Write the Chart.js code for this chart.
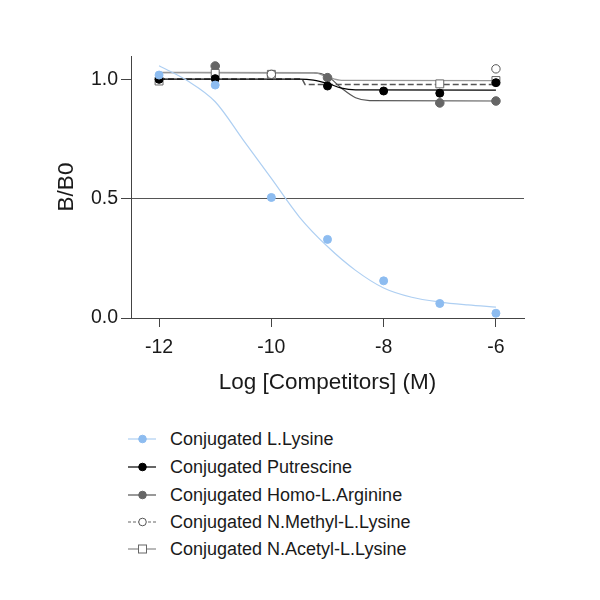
<!DOCTYPE html>
<html><head><meta charset="utf-8">
<script src="https://cdn.jsdelivr.net/npm/chart.js@4/dist/chart.umd.min.js"></script>
<style>
html,body{margin:0;padding:0;background:#fff;}
#wrap{position:relative;width:600px;height:600px;overflow:hidden;}
#cw{position:absolute;left:0;top:0;width:600px;height:410px;}
.row{position:absolute;left:125px;height:22px;display:flex;align-items:center;font-family:"Liberation Sans",Arial,Helvetica,sans-serif;font-size:18px;color:#1a1a1a;white-space:nowrap;}
.row svg{width:45px;height:22px;flex:none;}
</style></head><body>
<div id="wrap"><div id="cw"><canvas id="c"></canvas></div><div id="legend"></div></div>
<script>
// ---- data ----
const doses = [-12, -11, -10, -9, -8, -7, -6];
const lysine     = [1.020, 0.978, 0.506, 0.330, 0.156, 0.061, 0.020];
const putrescine = [1.002, 1.005, null, 0.974, 0.953, 0.944, 0.988];
const homoArg    = [null, 1.058, null, 1.009, null, 0.903, 0.911];
const nMethyl    = [null, null, 1.023, null, null, null, 1.046];
const nAcetyl    = [0.995, 1.027, 1.023, null, null, 0.983, 0.997];

// fitted curves
const lysineCurveX = [-12, -11.5, -11, -10.5, -10, -9.5, -9, -8.5, -8, -7.5, -7, -6.5, -6];
const lysineCurveY = [1.059, 0.997, 0.908, 0.747, 0.586, 0.424, 0.300, 0.200, 0.126, 0.087, 0.067, 0.055, 0.046];
const putCurveX = [-12, -9.5, -9.25, -9, -8.75, -8.5, -6];
const putCurveY = [1.003, 1.003, 0.999, 0.985, 0.965, 0.958, 0.957];
const homoCurveX = [-12, -9.25, -9, -8.75, -8.5, -8.25, -6];
const homoCurveY = [1.030, 1.029, 1.015, 0.965, 0.925, 0.913, 0.911];
const acetylCurveX = [-12, -9.25, -9, -8.75, -6];
const acetylCurveY = [1.031, 1.030, 1.012, 0.998, 0.997];
const methylCurveX = [-12, -9.45, -9.4, -6];
const methylCurveY = [1.003, 1.003, 0.980, 0.980];

const seriesNames = ["Conjugated L.Lysine", "Conjugated Putrescine", "Conjugated Homo-L.Arginine", "Conjugated N.Methyl-L.Lysine", "Conjugated N.Acetyl-L.Lysine"];
const xTicks = [-12, -10, -8, -6];
const yTicks = [0, 0.5, 1.0];
const xTitle = "Log [Competitors] (M)";
const yTitle = "B/B0";

// ---- styling ----
const FONT = "'Liberation Sans', Arial, Helvetica, sans-serif";
const BLUE = "#8dbcf0", BLUE_LINE = "#aecff2";
const pts = (xs, ys) => xs.map((x, i) => ({x: x, y: ys[i]})).filter(p => p.y !== null);

function pointSet(label, ys, opts) {
  return Object.assign({type: 'scatter', label: label, data: pts(doses, ys), showLine: false, pointRadius: 4, pointHoverRadius: 4, pointBorderWidth: 1}, opts);
}
function curveSet(xs, ys, color, extra) {
  return Object.assign({type: 'scatter', data: pts(xs, ys), showLine: true, pointRadius: 0, pointHoverRadius: 0, borderColor: color, borderWidth: 1.2, cubicInterpolationMode: 'monotone', fill: false}, extra || {});
}

const datasets = [
  pointSet(seriesNames[0], lysine, {backgroundColor: BLUE, borderColor: BLUE}),
  pointSet(seriesNames[1], putrescine, {backgroundColor: '#000', borderColor: '#000'}),
  pointSet(seriesNames[3], nMethyl, {backgroundColor: '#fff', borderColor: '#555', pointRadius: 4.2}),
  pointSet(seriesNames[4], nAcetyl, {backgroundColor: '#fff', borderColor: '#666', pointStyle: 'rect', pointRadius: 5.6}),
  pointSet(seriesNames[2], homoArg, {backgroundColor: '#666', borderColor: '#666', pointRadius: 4.3}),
  curveSet(lysineCurveX, lysineCurveY, BLUE_LINE),
  curveSet(putCurveX, putCurveY, '#000'),
  curveSet(methylCurveX, methylCurveY, '#555', {borderDash: [6, 3], borderWidth: 1.5, cubicInterpolationMode: 'default', tension: 0}),
  curveSet(acetylCurveX, acetylCurveY, '#999'),
  curveSet(homoCurveX, homoCurveY, '#555'),
];

new Chart(document.getElementById('c'), {
  type: 'scatter',
  data: {datasets: datasets},
  options: {
    responsive: true, maintainAspectRatio: false, animation: false,
    layout: {padding: {top: 56, right: 76, left: 0, bottom: 0}},
    plugins: {legend: {display: false}, tooltip: {enabled: false}},
    events: [],
    scales: {
      x: {
        type: 'linear', min: -12.5, max: -5.5,
        afterBuildTicks: s => { s.ticks = xTicks.map(v => ({value: v})); },
        afterFit: s => { s.height = 92; },
        grid: {drawOnChartArea: false, tickLength: 9, tickColor: '#444', tickWidth: 1},
        border: {color: '#444', width: 1},
        ticks: {color: '#1a1a1a', font: {family: FONT, size: 19.5}, padding: 9, callback: v => String(v), maxRotation: 0},
        title: {display: true, text: xTitle, color: '#1a1a1a', font: {family: FONT, size: 22.5}, padding: {top: 0, bottom: 14}}
      },
      y: {
        type: 'linear', min: 0, max: 1.1,
        afterBuildTicks: s => { s.ticks = yTicks.map(v => ({value: v})); },
        afterFit: s => { s.width = 131; },
        grid: {drawOnChartArea: true, tickLength: 10, tickColor: '#444', tickWidth: 1,
               color: c => (c.tick && Math.abs(c.tick.value - 0.5) < 1e-9) ? '#555' : 'rgba(0,0,0,0)', lineWidth: 1},
        border: {color: '#444', width: 1},
        ticks: {color: '#1a1a1a', font: {family: FONT, size: 19.5}, padding: 3, callback: v => Number(v).toFixed(1)},
        title: {display: true, text: yTitle, color: '#1a1a1a', font: {family: FONT, size: 22.5}, padding: {top: 53, bottom: 0}}
      }
    }
  }
});

// ---- HTML legend ----
const legendStyles = [
  {line: BLUE_LINE, dash: '', marker: 'circle', fill: BLUE, stroke: BLUE},
  {line: '#000', dash: '', marker: 'circle', fill: '#000', stroke: '#000'},
  {line: '#555', dash: '', marker: 'circle', fill: '#666', stroke: '#666'},
  {line: '#666', dash: '3,2', marker: 'circle', fill: '#fff', stroke: '#555'},
  {line: '#888', dash: '', marker: 'rect', fill: '#fff', stroke: '#666'},
];
const legendRowsY = [439, 467, 495, 522, 549];
const lg = document.getElementById('legend');
seriesNames.forEach((name, i) => {
  const st = legendStyles[i];
  const row = document.createElement('div');
  row.className = 'row';
  row.style.top = (legendRowsY[i] - 11) + 'px';
  const mk = st.marker === 'circle'
    ? `<circle cx="17.5" cy="11" r="3.8" fill="${st.fill}" stroke="${st.stroke}" stroke-width="1"/>`
    : `<rect x="13.5" y="7" width="8" height="8" fill="${st.fill}" stroke="${st.stroke}" stroke-width="1"/>`;
  row.innerHTML = `<svg viewBox="0 0 45 22"><line x1="3" y1="11" x2="31" y2="11" stroke="${st.line}" stroke-width="1.2" ${st.dash ? `stroke-dasharray="${st.dash}"` : ''}/>${mk}</svg><span>${name}</span>`;
  lg.appendChild(row);
});
</script>
</body></html>
